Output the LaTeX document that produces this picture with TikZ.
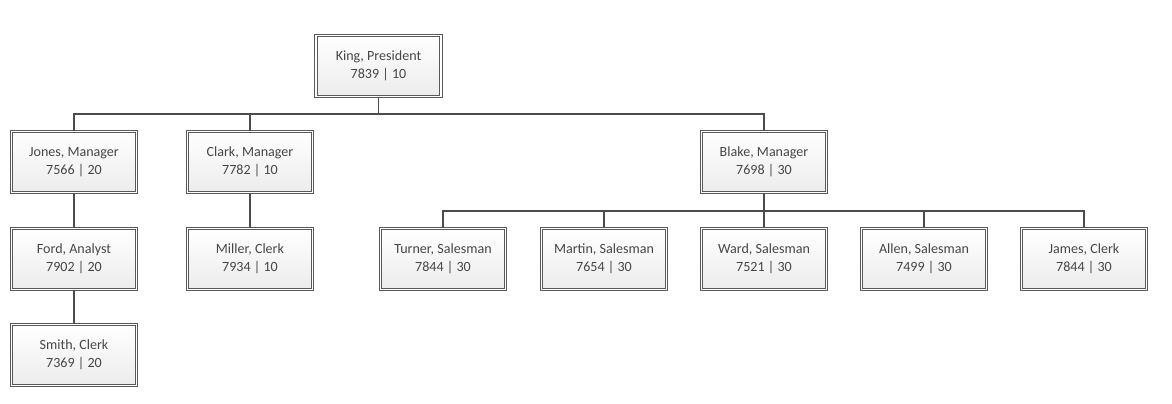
\documentclass[tikz,border=0pt]{standalone}
\usepackage{fontspec}
\setmainfont{Carlito}
\usetikzlibrary{shadows}

\tikzset{
    emp/.style={rectangle, draw=gray!70!black, line width=0.75pt, double=white, double distance=1.1pt,
        fill=white, minimum width=3.12cm, minimum height=1.52cm,
        path picture={\shade[top color=white, bottom color=gray!15]
            (path picture bounding box.south west) rectangle (path picture bounding box.north east);},
        align=center, inner sep=0pt, text=black!72, font=\fontsize{10}{12.8}\selectfont,
        drop shadow={opacity=0.2, shadow xshift=0.8pt, shadow yshift=-0.8pt, fill=gray}},
    link/.style={-, line width=1pt, draw=black!70}
}

\begin{document}
\begin{tikzpicture}[x=0.025cm, y=-0.025cm]
    \useasboundingbox (0,0) rectangle (1172,403);

    \node[emp] (king) at (378.5, 66) {King, President\\7839 | 10};

    \node[emp] (jones) at (74, 162) {Jones, Manager\\7566 | 20};
    \node[emp] (clark) at (250, 162) {Clark, Manager\\7782 | 10};
    \node[emp] (blake) at (764, 162) {Blake, Manager\\7698 | 30};

    \node[emp] (ford) at (74, 259) {Ford, Analyst\\7902 | 20};
    \node[emp] (miller) at (250, 259) {Miller, Clerk\\7934 | 10};
    \node[emp] (smith) at (74, 355) {Smith, Clerk\\7369 | 20};

    \node[emp] (turner) at (443, 259) {Turner, Salesman\\7844 | 30};
    \node[emp] (martin) at (604, 259) {Martin, Salesman\\7654 | 30};
    \node[emp] (ward) at (764, 259) {Ward, Salesman\\7521 | 30};
    \node[emp] (allen) at (924, 259) {Allen, Salesman\\7499 | 30};
    \node[emp] (james) at (1084, 259) {James, Clerk\\7844 | 30};

    % king to managers
    \coordinate (kbus) at (378.5, 114);
    \draw[link] (king.south) -- (kbus);
    \draw[link] (jones.north) |- (kbus) -| (blake.north);
    \draw[link] (clark.north) -- (clark.north |- kbus);

    \draw[link] (jones) -- (ford);
    \draw[link] (ford) -- (smith);
    \draw[link] (clark) -- (miller);

    % blake to sales
    \coordinate (bbus) at (764, 211);
    \draw[link] (blake.south) -- (bbus);
    \draw[link] (turner.north) |- (bbus) -| (james.north);
    \foreach \e in {martin, ward, allen}
        \draw[link] (\e.north) -- (\e.north |- bbus);
\end{tikzpicture}
\end{document}
